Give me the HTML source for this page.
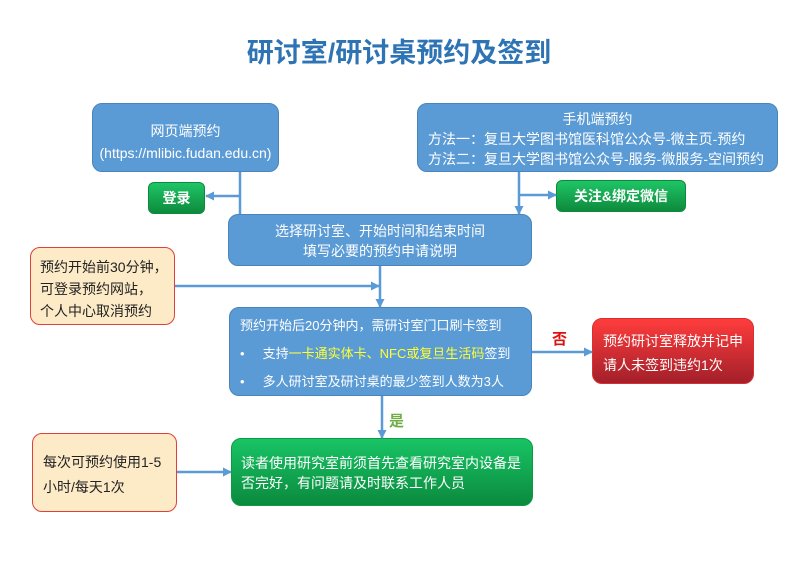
<!DOCTYPE html>
<html><head><meta charset="utf-8"><style>
body{margin:0;width:798px;height:580px;background:#fff;position:relative;font-family:"Liberation Sans","Noto Sans CJK SC",sans-serif;overflow:hidden}
.b{position:absolute;box-sizing:border-box;border-radius:10px;color:#fff;font-size:13px;white-space:nowrap}
.blue{background:#5b9bd5;border:1px solid #4a84bb}
.or{background:#fdebc8;border:1px solid #e0403a;color:#222;font-size:13px}
.g{background:linear-gradient(#1fc566,#0d8a3c);border:1px solid #0c8a3c;font-weight:bold;text-align:center}
.c{text-align:center}
svg{position:absolute;left:0;top:0;z-index:5}
</style></head><body>
<div style="position:absolute;left:0;width:798px;top:31px;text-align:center;font-size:27px;font-weight:bold;color:#2e74b5">研讨室/研讨桌预约及签到</div>
<svg width="798" height="580"><defs><marker id="a" markerUnits="userSpaceOnUse" markerWidth="9" markerHeight="9" refX="8" refY="4.5" orient="auto"><path d="M0,0L9,4.5L0,9z" fill="#5b9bd5"/></marker></defs>
<g stroke="#5b9bd5" stroke-width="2.5" fill="none">
<line x1="240" y1="172" x2="240" y2="214"/>
<line x1="240" y1="196" x2="206" y2="196" marker-end="url(#a)"/>
<line x1="519" y1="172" x2="519" y2="214" marker-end="url(#a)"/>
<line x1="519" y1="195" x2="556" y2="195" marker-end="url(#a)"/>
<line x1="380" y1="266" x2="380" y2="307" marker-end="url(#a)"/>
<line x1="175" y1="286" x2="379" y2="286" marker-end="url(#a)"/>
<line x1="382" y1="396" x2="382" y2="438" marker-end="url(#a)"/>
<line x1="532" y1="352" x2="592" y2="352" marker-end="url(#a)"/>
<line x1="177" y1="472" x2="231" y2="472" marker-end="url(#a)"/>
</g></svg>
<div class="b blue c" style="left:92px;top:103px;width:187px;height:69px;padding-top:16px;line-height:22px;font-size:14px">网页端预约<br>(https://mlibic.fudan.edu.cn)</div>
<div class="b blue" style="left:417px;top:103px;width:361px;height:69px;padding:5px 0 0 10px;line-height:20px;font-size:14px"><div class="c" style="margin-right:10px">手机端预约</div>方法一：复旦大学图书馆医科馆公众号-微主页-预约<br>方法二：复旦大学图书馆公众号-服务-微服务-空间预约</div>
<div class="b g" style="left:148px;top:182px;width:57px;height:32px;line-height:30px;border-radius:6px;font-size:14px">登录</div>
<div class="b g" style="left:556px;top:180px;width:130px;height:32px;line-height:30px;border-radius:6px;font-size:14px">关注&amp;绑定微信</div>
<div class="b blue c" style="left:228px;top:214px;width:304px;height:52px;padding-top:6px;line-height:20px;font-size:14px">选择研讨室、开始时间和结束时间<br>填写必要的预约申请说明</div>
<div class="b or" style="left:30px;top:247px;width:145px;height:78px;padding:8px 0 0 9px;line-height:22px;font-size:14px">预约开始前30分钟，<br>可登录预约网站，<br>个人中心取消预约</div>
<div class="b blue" style="left:229px;top:307px;width:303px;height:89px;padding:4px 0 0 10px;line-height:28px;font-size:13px">预约开始后20分钟内，需研讨室门口刷卡签到<br>•&nbsp;&nbsp;&nbsp;&nbsp;&nbsp;支持<span style="color:#ffff33">一卡通实体卡、NFC或复旦生活码</span>签到<br>•&nbsp;&nbsp;&nbsp;&nbsp;&nbsp;多人研讨室及研讨桌的最少签到人数为3人</div>
<div class="b" style="left:592px;top:318px;width:162px;height:66px;background:linear-gradient(#ff3c3c,#a3202a);border:1px solid #d83030;padding:10px 0 0 10px;line-height:24px;font-size:14px">预约研讨室释放并记申<br>请人未签到违约1次</div>
<div style="position:absolute;left:552px;top:328px;color:#e01010;font-weight:bold;font-size:15px">否</div>
<div style="position:absolute;left:389px;top:410px;color:#70ad47;font-weight:bold;font-size:15px">是</div>
<div class="b or" style="left:32px;top:433px;width:145px;height:79px;padding:16px 0 0 10px;line-height:25px;font-size:14px">每次可预约使用1-5<br>小时/每天1次</div>
<div class="b" style="left:231px;top:438px;width:302px;height:68px;background:linear-gradient(#18c465,#0b8a3e);border:1px solid #0c9a45;padding:14px 0 0 9px;line-height:20px;font-size:14px">读者使用研究室前须首先查看研究室内设备是<br>否完好，有问题请及时联系工作人员</div>
</body></html>
